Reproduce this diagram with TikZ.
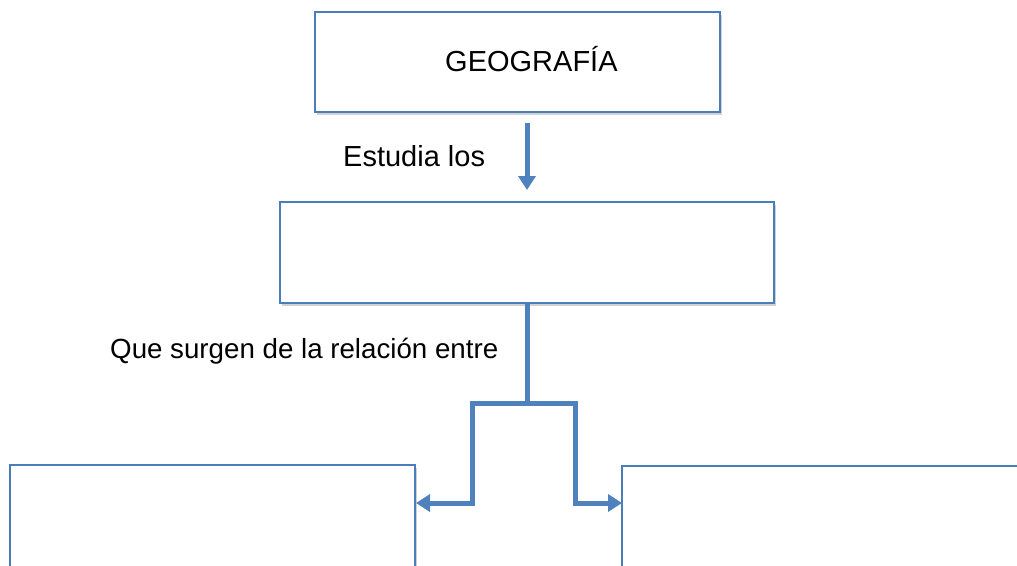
\documentclass[tikz,border=0pt]{standalone}
\usepackage{fontspec}
\setmainfont{Liberation Sans}
\usetikzlibrary{arrows.meta,shadows}
\definecolor{boxblue}{RGB}{74,126,187}
\definecolor{linkblue}{RGB}{79,129,189}
\begin{document}
\begin{tikzpicture}[x=1pt,y=-1pt,
  box/.style={draw=boxblue, line width=2pt, fill=white, inner sep=0pt, outer sep=0pt,
    anchor=north west,
    drop shadow={shadow xshift=1.5pt, shadow yshift=-3pt, opacity=0.18, fill=black}},
  lbl/.style={inner sep=0pt, anchor=base west, font=\fontsize{29}{34}\selectfont},
  link/.style={draw=linkblue, line width=5pt, line join=miter},
  tip/.style={-{Triangle[length=14pt,width=17pt]}}]
\useasboundingbox (0,0) rectangle (1017,565);
\clip (0,0) rectangle (1017,565);
% boxes
\node[box, minimum width=405pt, minimum height=100pt] (g) at (315,12) {};
\node[box, minimum width=494pt, minimum height=101pt] (m) at (280,202) {};
\node[box, minimum width=405pt, minimum height=160pt] (l) at (10,465) {};
\node[box, minimum width=430pt, minimum height=160pt] (r) at (622,466) {};
% texts
\node[lbl] (tg) at (445,71) {GEOGRAFÍA};
\node[lbl] (te) at (343,166) {Estudia los};
\node[lbl, font=\fontsize{27.7}{33}\selectfont] (tq) at (110,358) {Que surgen de la relación entre};
% connectors
\coordinate (a0) at (527,123);
\coordinate (a1) at (527,190);
\draw[link,tip] (a0) -- (a1);
\coordinate (j) at (527,403);
\coordinate (jl) at (472,403);
\coordinate (jr) at (575,403);
\coordinate (la) at (416,503);
\coordinate (ra) at (622,503);
\draw[link] (m.south -| j) -- (j);
\draw[link,tip] (j) -- (jl) |- (la);
\draw[link,tip] (j) -- (jr) |- (ra);
\end{tikzpicture}
\end{document}
